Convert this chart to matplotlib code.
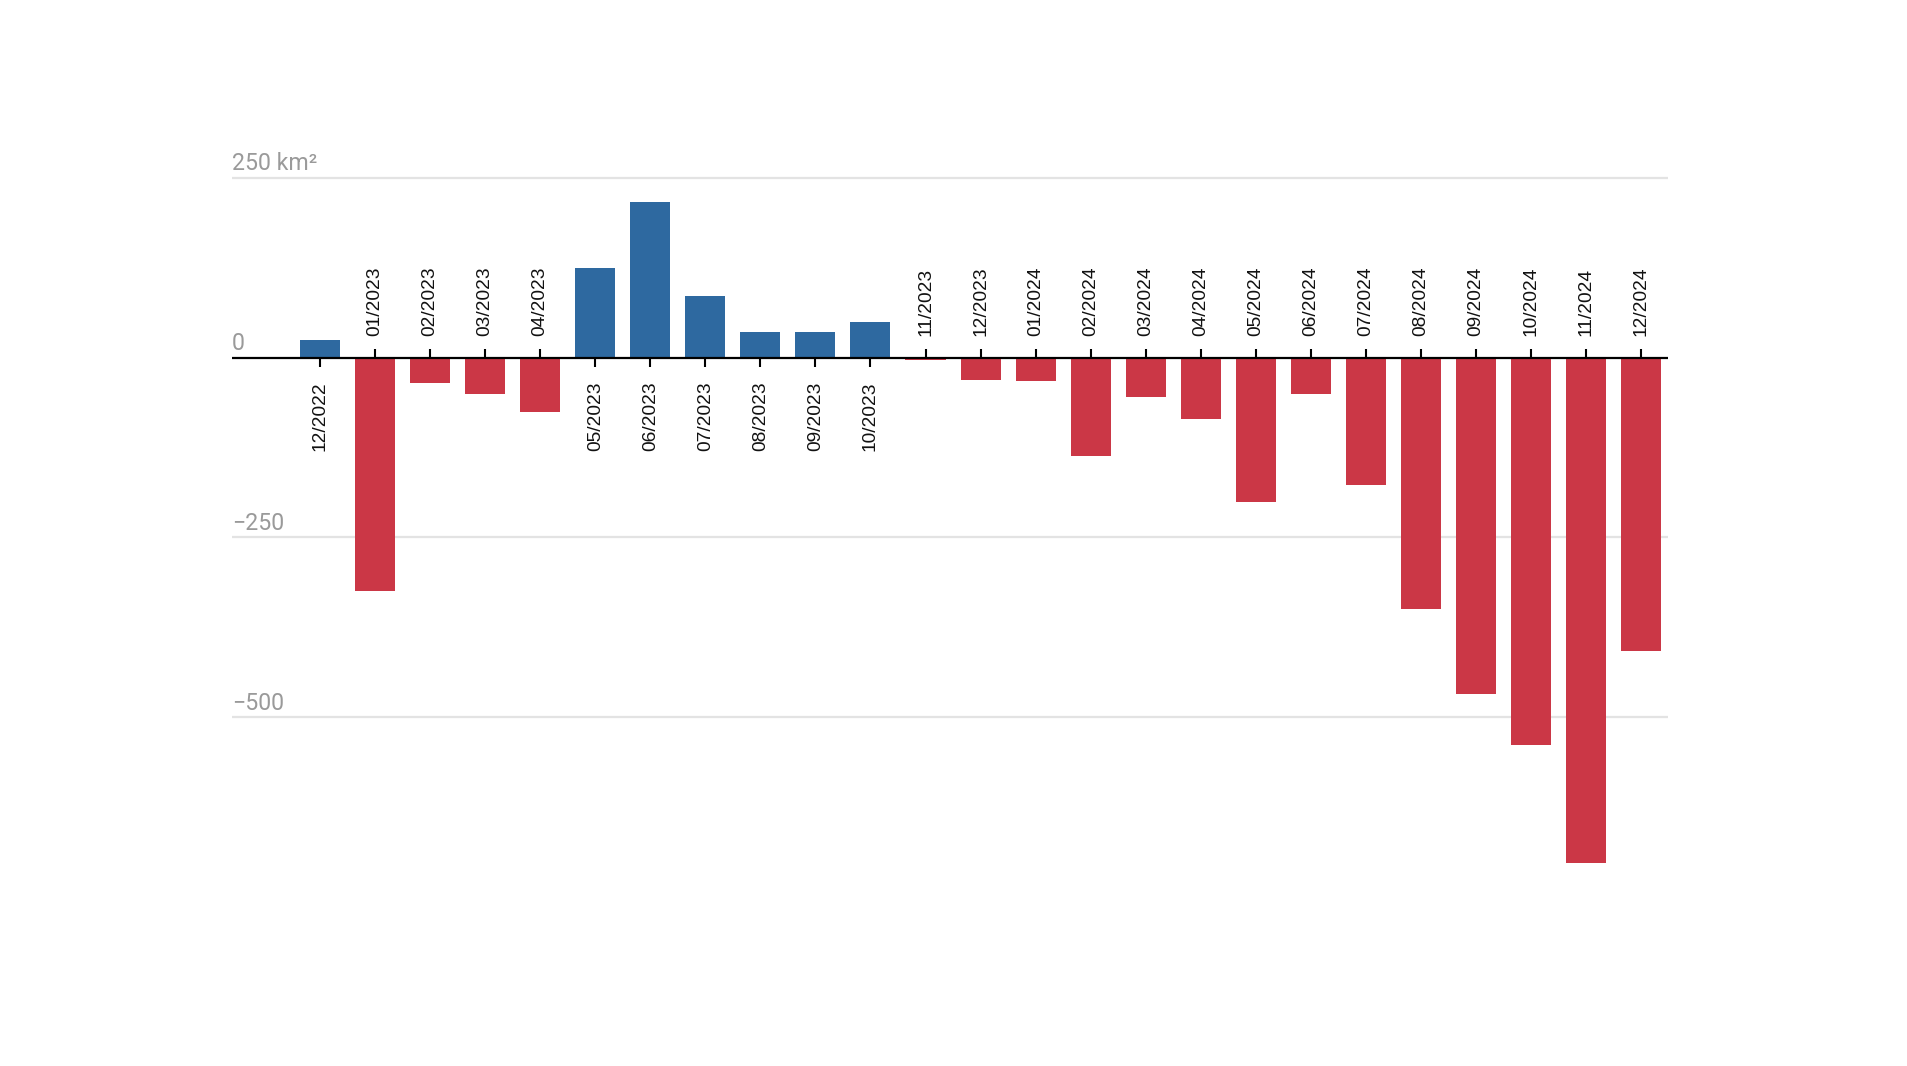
import matplotlib.pyplot as plt

months = ['12/2022', '01/2023', '02/2023', '03/2023', '04/2023', '05/2023',
          '06/2023', '07/2023', '08/2023', '09/2023', '10/2023', '11/2023',
          '12/2023', '01/2024', '02/2024', '03/2024', '04/2024', '05/2024',
          '06/2024', '07/2024', '08/2024', '09/2024', '10/2024', '11/2024',
          '12/2024']
change = [24, -325, -36, -51, -76, 124, 216, 85, 36, 36, 49, -3,
          -31, -33, -137, -55, -85, -200, -50, -177, -350, -468, -539, -702,
          -408]
yticks = [250, 0, -250, -500]
ytick_labels = ['250 km²', '0', '\u2212250', '\u2212500']

blue = '#2e69a0'
red = '#cb3746'

fig = plt.figure(figsize=(19.08, 10.66), dpi=100)
ax = fig.add_axes([232 / 1908, 1 - 900 / 1066, (1668 - 232) / 1908, 750 / 1066])

x = list(range(len(months)))
colors = [blue if v > 0 else red for v in change]
ax.bar(x, change, width=0.727, color=colors, zorder=2)

# gridlines and zero line
for t in yticks:
    if t == 0:
        ax.axhline(0, color='black', lw=1.6, zorder=3)
    else:
        ax.axhline(t, color='#e3e3e3', lw=1.6, zorder=1)

for t, lab in zip(yticks, ytick_labels):
    ax.annotate(lab, xy=(0, t), xycoords=('axes fraction', 'data'),
                xytext=(0, 5.5), textcoords='offset points',
                ha='left', va='baseline', fontsize=16.7, color='#9a9a9a',
                family='Roboto')

# month ticks and labels on the side opposite to the bar
for i, (m, v) in enumerate(zip(months, change)):
    if v > 0:
        ax.plot(i, 0, marker=3, markersize=6.5, color='black', mew=1.5, zorder=4)
        ax.annotate(m, xy=(i, 0), xytext=(0, -17), textcoords='offset points',
                    rotation=90, ha='center', va='top', fontsize=13.8,
                    family='Liberation Sans', color='#111111')
    else:
        ax.plot(i, 0, marker=2, markersize=6.5, color='black', mew=1.5, zorder=4)
        ax.annotate(m, xy=(i, 0), xytext=(0, 15.5), textcoords='offset points',
                    rotation=90, ha='center', va='bottom', fontsize=13.8,
                    family='Liberation Sans', color='#111111')

ax.set_xlim(-1.6, 24.49)
ax.set_ylim(-753.7, 288.4)
ax.axis('off')

fig.savefig('out.png', dpi=100)
